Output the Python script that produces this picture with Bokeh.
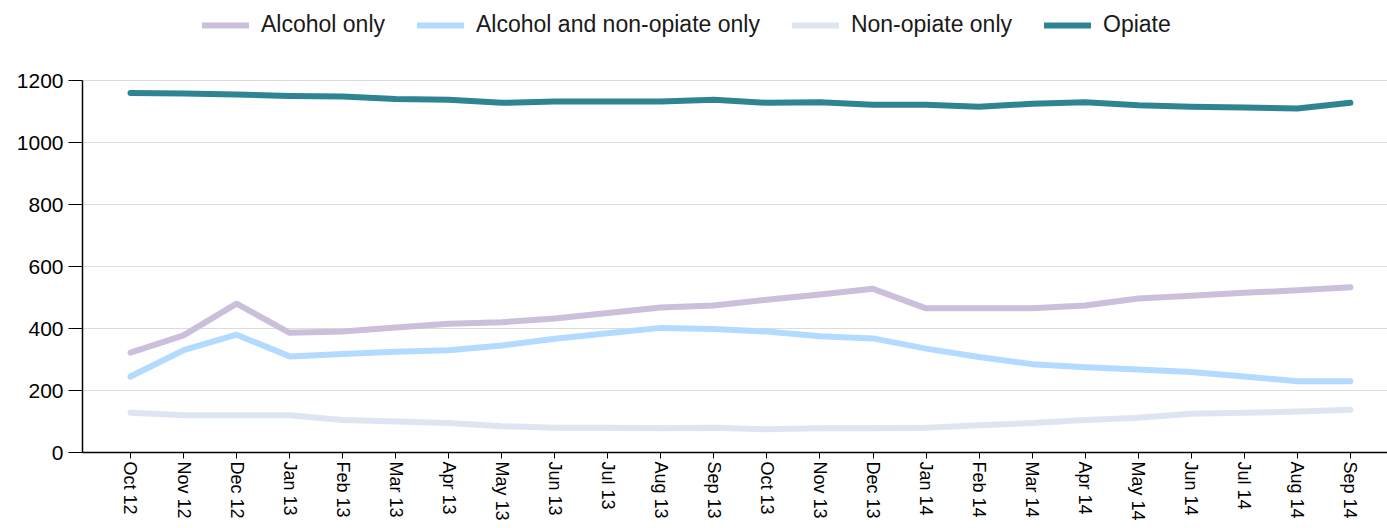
import math
from bokeh.plotting import figure
from bokeh.models import ColumnDataSource, Legend, LegendItem, FixedTicker, Range1d
from bokeh.embed import file_html
from bokeh.resources import INLINE

months = ["Oct 12", "Nov 12", "Dec 12", "Jan 13", "Feb 13", "Mar 13", "Apr 13", "May 13",
          "Jun 13", "Jul 13", "Aug 13", "Sep 13", "Oct 13", "Nov 13", "Dec 13", "Jan 14",
          "Feb 14", "Mar 14", "Apr 14", "May 14", "Jun 14", "Jul 14", "Aug 14", "Sep 14"]

alcohol_only = [322, 378, 480, 386, 390, 403, 415, 420, 432, 450, 468, 474,
                493, 510, 528, 465, 465, 465, 474, 497, 506, 515, 523, 533]
alcohol_non_opiate = [245, 330, 380, 310, 318, 325, 330, 345, 367, 385, 402, 398,
                      390, 375, 368, 335, 308, 285, 275, 268, 260, 245, 230, 230]
non_opiate_only = [128, 120, 120, 120, 105, 100, 95, 85, 80, 80, 78, 80,
                   75, 78, 78, 80, 88, 95, 105, 112, 125, 128, 132, 138]
opiate = [1160, 1158, 1155, 1150, 1148, 1140, 1138, 1128, 1132, 1132, 1132, 1138,
          1128, 1130, 1122, 1122, 1115, 1125, 1130, 1120, 1115, 1113, 1110, 1128]

series_names = ["Alcohol only", "Alcohol and non-opiate only", "Non-opiate only", "Opiate"]
series_values = [alcohol_only, alcohol_non_opiate, non_opiate_only, opiate]
colors = ["#cbbfdb", "#b3dbff", "#dde6f0", "#2e8491"]
y_ticks = [0, 200, 400, 600, 800, 1000, 1200]

xs = list(range(len(months)))

# frame spans the full top so the legend (drawn inside the frame) is not clipped;
# the y axis line is bounded to 0..1200
p = figure(width=1387, height=528, output_backend="svg", toolbar_location=None,
           x_range=Range1d(-0.905, 23.70), y_range=Range1d(0, 1200 * 452 / 372),
           min_border_left=82, min_border_right=0, min_border_top=0, min_border_bottom=76)
p.outline_line_color = None
p.background_fill_color = "white"
p.border_fill_color = "white"

renderers = []
for name, vals, c in zip(series_names, series_values, colors):
    src = ColumnDataSource(dict(x=xs, y=vals))
    r = p.line("x", "y", source=src, line_color=c, line_width=6,
               line_cap="round", line_join="round")
    renderers.append((name, r))

font = "Liberation Sans"
p.xgrid.grid_line_color = None
p.ygrid.grid_line_color = "#dcdcdc"
p.ygrid.grid_line_width = 1
p.ygrid.ticker = FixedTicker(ticks=y_ticks[1:])

p.yaxis.bounds = (0, 1200)
p.yaxis.ticker = FixedTicker(ticks=y_ticks)
p.yaxis.minor_tick_line_color = None
p.yaxis.major_tick_out = 14
p.yaxis.major_tick_in = 0
p.yaxis.major_label_standoff = 5
p.yaxis.axis_line_color = "black"
p.yaxis.axis_line_width = 1.5
p.yaxis.major_tick_line_color = "black"
p.yaxis.major_label_text_font = font
p.yaxis.major_label_text_font_size = "21px"
p.yaxis.major_label_text_color = "black"

p.xaxis.ticker = FixedTicker(ticks=xs)
p.xaxis.major_label_overrides = {i: m for i, m in enumerate(months)}
p.xaxis.minor_tick_line_color = None
p.xaxis.major_tick_out = 6
p.xaxis.major_tick_in = 0
p.xaxis.major_label_standoff = 3
p.xaxis.axis_line_color = "black"
p.xaxis.axis_line_width = 1.5
p.xaxis.major_tick_line_color = "black"
p.xaxis.major_label_orientation = -math.pi / 2
p.xaxis.major_label_text_font = font
p.xaxis.major_label_text_font_size = "18px"
p.xaxis.major_label_text_color = "black"

legend = Legend(items=[LegendItem(label=n, renderers=[r]) for n, r in renderers],
                orientation="horizontal", location=(120, 414),
                border_line_color=None, background_fill_alpha=0,
                glyph_width=47, glyph_height=20, label_standoff=12, spacing=32,
                label_text_font=font, label_text_font_size="23px",
                label_text_color="#1a1a1a",
                padding=4, margin=0)
p.add_layout(legend, "center")

open("out.html", "w").write(file_html(p, INLINE))
